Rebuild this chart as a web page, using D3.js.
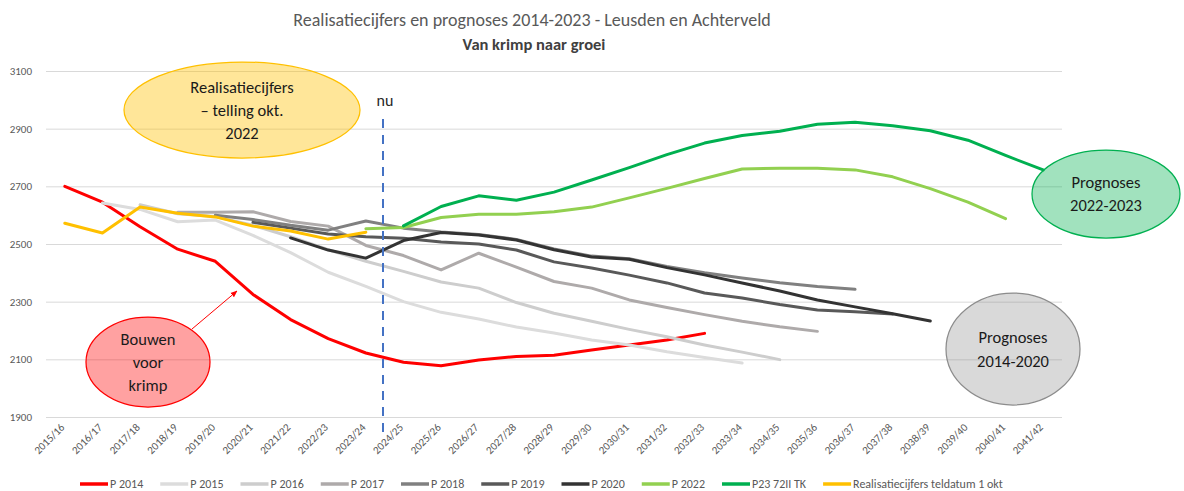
<!DOCTYPE html>
<html>
<head>
<meta charset="utf-8">
<script src="https://cdn.jsdelivr.net/npm/d3@7"></script>
<style>
  body { margin: 0; background: #fff; }
  svg { display: block; font-family: Carlito, Lato, "Liberation Sans", sans-serif; }
</style>
</head>
<body>
<svg id="chart" width="1184" height="491"></svg>
<script>
// ── Data ──────────────────────────────────────────────────────────
var categories = ["2015/16", "2016/17", "2017/18", "2018/19", "2019/20", "2020/21", "2021/22",
  "2022/23", "2023/24", "2024/25", "2025/26", "2026/27", "2027/28", "2028/29", "2029/30",
  "2030/31", "2031/32", "2032/33", "2033/34", "2034/35", "2035/36", "2036/37", "2037/38",
  "2038/39", "2039/40", "2040/41", "2041/42"];
var yTicks = [1900, 2100, 2300, 2500, 2700, 2900, 3100];

// each forecast: first category + values
var p2014 = [2700, 2645, 2560, 2482, 2440, 2325, 2238, 2172, 2122, 2090, 2078, 2098, 2110, 2114, 2132, 2150, 2167, 2190];
var p2015 = [2642, 2620, 2577, 2583, 2530, 2470, 2402, 2353, 2300, 2263, 2240, 2212, 2191, 2167, 2150, 2126, 2106, 2087];
var p2016 = [2636, 2605, 2595, 2565, 2525, 2480, 2440, 2405, 2368, 2347, 2297, 2260, 2232, 2204, 2178, 2150, 2125, 2099];
var p2017 = [2610, 2610, 2612, 2578, 2562, 2495, 2460, 2410, 2468, 2420, 2370, 2347, 2306, 2280, 2255, 2232, 2213, 2197];
var p2018 = [2600, 2585, 2565, 2548, 2580, 2555, 2542, 2533, 2516, 2483, 2458, 2449, 2422, 2400, 2382, 2366, 2353, 2343];
var p2019 = [2575, 2555, 2535, 2525, 2520, 2507, 2500, 2479, 2438, 2417, 2392, 2365, 2330, 2313, 2290, 2271, 2265, 2257];
var p2020 = [2521, 2479, 2451, 2512, 2540, 2531, 2514, 2480, 2455, 2447, 2418, 2393, 2365, 2337, 2306, 2282, 2258, 2233];
var p2022 = [2553, 2557, 2592, 2603, 2603, 2612, 2628, 2660, 2693, 2727, 2760, 2763, 2763, 2757, 2733, 2692, 2645, 2588];
var p23 = [2563, 2630, 2667, 2652, 2680, 2722, 2765, 2810, 2850, 2876, 2891, 2915, 2922, 2910, 2893, 2860, 2807, 2757];
var realisatie = [2572, 2538, 2628, 2607, 2594, 2562, 2545, 2517, 2541];

var series = [
  { name: "P 2014", start: "2015/16", values: p2014, color: "#ff0000" },
  { name: "P 2015", start: "2016/17", values: p2015, color: "#dcdcdc" },
  { name: "P 2016", start: "2017/18", values: p2016, color: "#cdcdcd" },
  { name: "P 2017", start: "2018/19", values: p2017, color: "#aeaaaa" },
  { name: "P 2018", start: "2019/20", values: p2018, color: "#808080" },
  { name: "P 2019", start: "2020/21", values: p2019, color: "#595959" },
  { name: "P 2020", start: "2021/22", values: p2020, color: "#333333" },
  { name: "P 2022", start: "2023/24", values: p2022, color: "#92d050" },
  { name: "P23 72II TK", start: "2024/25", values: p23, color: "#00b050" },
  { name: "Realisatiecijfers teldatum 1 okt", start: "2015/16", values: realisatie, color: "#ffc000" }
];

// ── Layout ────────────────────────────────────────────────────────
var svg = d3.select("#chart");
var PLOT_LEFT = 46, PLOT_RIGHT = 1062, PLOT_TOP = 71, PLOT_BOTTOM = 417;
var TEXT_GREY = "#595959";
var FONT = "Carlito, Lato, 'Liberation Sans', sans-serif";

var x = d3.scalePoint().domain(categories).range([PLOT_LEFT, PLOT_RIGHT]).padding(0.5);
var y = d3.scaleLinear().domain([1900, 3100]).range([PLOT_BOTTOM, PLOT_TOP]);

// ── Titles ────────────────────────────────────────────────────────
svg.append("text")
  .attr("x", 532).attr("y", 26)
  .attr("text-anchor", "middle")
  .attr("font-size", 18)
  .attr("fill", TEXT_GREY)
  .text("Realisatiecijfers en prognoses 2014-2023 - Leusden en Achterveld");

svg.append("text")
  .attr("x", 534).attr("y", 50)
  .attr("text-anchor", "middle")
  .attr("font-size", 16.5)
  .attr("font-weight", "bold")
  .attr("fill", "#404040")
  .text("Van krimp naar groei");

// ── Grid + y axis ─────────────────────────────────────────────────
var yAxis = d3.axisLeft(y)
  .tickValues(yTicks)
  .tickFormat(d3.format("d"))
  .tickSize(-(PLOT_RIGHT - PLOT_LEFT))
  .tickPadding(14);
var gy = svg.append("g").attr("transform", "translate(" + PLOT_LEFT + ",0)").call(yAxis);
gy.select(".domain").remove();
gy.selectAll(".tick line").attr("stroke", "#d9d9d9").attr("stroke-width", 1);
gy.selectAll(".tick text")
  .attr("font-size", 11).attr("fill", TEXT_GREY)
  .attr("font-family", FONT);

// ── x labels (rotated) ────────────────────────────────────────────
var xAxis = d3.axisBottom(x).tickSize(0).tickPadding(0);
var gx = svg.append("g").attr("transform", "translate(0," + PLOT_BOTTOM + ")").call(xAxis);
gx.select(".domain").remove();
gx.selectAll(".tick text")
  .attr("font-size", 11).attr("fill", TEXT_GREY)
  .attr("font-family", FONT)
  .attr("text-anchor", "end")
  .attr("dy", null)
  .attr("transform", "translate(0,11) rotate(-45)");

// ── Lines ─────────────────────────────────────────────────────────
var line = d3.line()
  .x(function (d) { return x(d.cat); })
  .y(function (d) { return y(d.v); });

series.forEach(function (s) {
  var i0 = categories.indexOf(s.start);
  var pts = s.values.map(function (v, i) { return { cat: categories[i0 + i], v: v }; });
  svg.append("path")
    .datum(pts)
    .attr("d", line)
    .attr("fill", "none")
    .attr("stroke", s.color)
    .attr("stroke-width", 3)
    .attr("stroke-linejoin", "round")
    .attr("stroke-linecap", "round");
});

// ── "nu" marker ───────────────────────────────────────────────────
svg.append("line")
  .attr("x1", 383).attr("x2", 383)
  .attr("y1", 119).attr("y2", 437)
  .attr("stroke", "#4472c4")
  .attr("stroke-width", 2)
  .attr("stroke-dasharray", "9,7");

svg.append("text")
  .attr("x", 385).attr("y", 106)
  .attr("text-anchor", "middle")
  .attr("font-size", 16)
  .attr("fill", "#262626")
  .text("nu");

// ── Callout ellipses ──────────────────────────────────────────────
function bubble(cx, cy, rx, ry, fill, opacity, stroke, lines, lineGap) {
  svg.append("ellipse")
    .attr("cx", cx).attr("cy", cy).attr("rx", rx).attr("ry", ry)
    .attr("fill", fill).attr("fill-opacity", opacity)
    .attr("stroke", stroke).attr("stroke-width", 1.25);
  var top = cy - (lines.length - 1) * lineGap / 2;
  lines.forEach(function (t, i) {
    svg.append("text")
      .attr("x", cx).attr("y", top + i * lineGap)
      .attr("dy", "0.35em")
      .attr("text-anchor", "middle")
      .attr("font-size", 16.5)
      .attr("fill", "#1a1a1a")
      .text(t);
  });
}

bubble(242, 110, 118, 48, "#ffc000", 0.4, "#ffc000", ["Realisatiecijfers", "\u2013 telling okt.", "2022"], 23);
bubble(148, 362, 62, 45, "#ff0000", 0.37, "#ff0000", ["Bouwen", "voor", "krimp"], 23);
bubble(1013, 349, 67, 56, "#808080", 0.3, "#8c8c8c", ["Prognoses", "2014-2020"], 24);
bubble(1106, 194, 74, 44, "#00b050", 0.37, "#00b050", ["Prognoses", "2022-2023"], 23);

// arrow from the red bubble to the red line
svg.append("defs").append("marker")
  .attr("id", "arrow")
  .attr("viewBox", "0 -5 10 10")
  .attr("refX", 9)
  .attr("markerWidth", 7)
  .attr("markerHeight", 7)
  .attr("orient", "auto")
  .append("path")
  .attr("d", "M0,-4L10,0L0,4Z")
  .attr("fill", "#ff0000");

svg.append("line")
  .attr("x1", 192).attr("y1", 329)
  .attr("x2", 237).attr("y2", 291)
  .attr("stroke", "#ff0000")
  .attr("stroke-width", 1)
  .attr("marker-end", "url(#arrow)");

// ── Legend ────────────────────────────────────────────────────────
var lx = 80;
series.forEach(function (s) {
  var g = svg.append("g").attr("transform", "translate(" + lx + ",484)");
  g.append("line")
    .attr("x1", 0).attr("x2", 28)
    .attr("stroke", s.color).attr("stroke-width", 3.5);
  var t = g.append("text")
    .attr("x", 30).attr("dy", "0.35em")
    .attr("font-size", 12).attr("fill", TEXT_GREY)
    .text(s.name);
  lx += 30 + t.node().getComputedTextLength() + 17;
});
</script>
</body>
</html>
